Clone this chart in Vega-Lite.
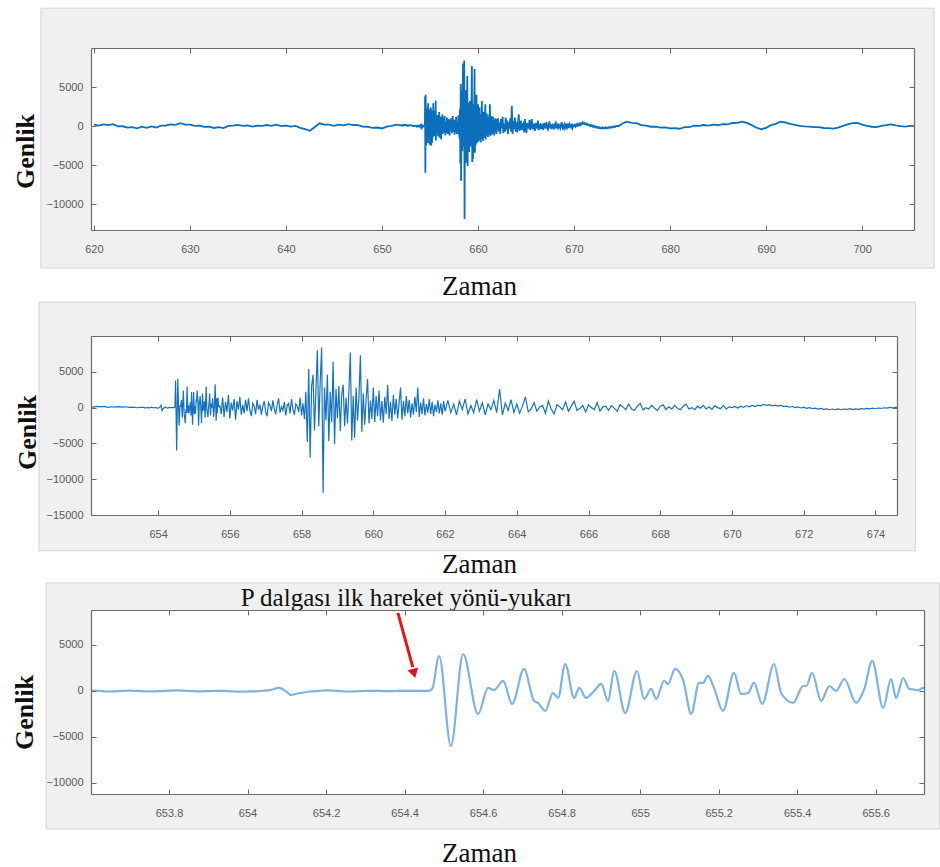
{
  "$schema": "https://vega.github.io/schema/vega-lite/v6.json",
  "background": "white",
  "padding": {"left": 11, "top": 7, "right": 0, "bottom": 0},
  "config": {
    "view": {"stroke": null},
    "axis": {
      "grid": false,
      "domainColor": "#6b6b6b", "domainWidth": 1.2,
      "tickColor": "#6b6b6b", "tickSize": -5, "tickWidth": 1,
      "labelFont": "Liberation Sans", "labelFontSize": 11, "labelColor": "#5a5a5a",
      "labelFlush": false, "labelOverlap": false,
      "titleFont": "Liberation Serif", "titleColor": "#111111", "titleFontWeight": "normal", "titleFontSize": 27
    }
  },
  "datasets": {
    "sig": [
      {"t":620,"v":180},{"t":620.5,"v":60},{"t":621,"v":220},{"t":621.5,"v":120},{"t":622,"v":260},{"t":622.5,"v":-40},{"t":623,"v":-20},{"t":623.5,"v":-200},{"t":624,"v":-120},{"t":624.5,"v":-280},{"t":625,"v":-80},{"t":625.5,"v":-220},{"t":626,"v":-40},{"t":626.5,"v":-180},{"t":627,"v":60},{"t":627.5,"v":80},{"t":628,"v":220},{"t":628.5,"v":160},{"t":629,"v":380},{"t":629.5,"v":200},{"t":630,"v":200},{"t":630.5,"v":20},{"t":631,"v":60},{"t":631.5,"v":-100},{"t":632,"v":-60},{"t":632.5,"v":-240},{"t":633,"v":-140},{"t":633.5,"v":-260},{"t":634,"v":20},{"t":634.5,"v":60},{"t":635,"v":160},{"t":635.5,"v":20},{"t":636,"v":80},{"t":636.5,"v":-60},{"t":637,"v":60},{"t":637.5,"v":20},{"t":638,"v":140},{"t":638.5,"v":40},{"t":639,"v":180},{"t":639.5,"v":0},{"t":640,"v":60},{"t":640.5,"v":-60},{"t":641,"v":20},{"t":641.5,"v":-220},{"t":642,"v":-380},{"t":642.5,"v":-600},{"t":643,"v":-120},{"t":643.5,"v":360},{"t":644,"v":200},{"t":644.5,"v":180},{"t":645,"v":40},{"t":645.5,"v":180},{"t":646,"v":100},{"t":646.5,"v":260},{"t":647,"v":140},{"t":647.5,"v":120},{"t":648,"v":-60},{"t":648.5,"v":-80},{"t":649,"v":-220},{"t":649.5,"v":-180},{"t":650,"v":-300},{"t":650.5,"v":-80},{"t":651,"v":40},{"t":651.5,"v":200},{"t":652,"v":80},
      {"t":652.1,"v":140},{"t":652.2,"v":60},{"t":652.3,"v":180},{"t":652.4,"v":100},{"t":652.5,"v":160},{"t":652.6,"v":40},{"t":652.7,"v":120},{"t":652.8,"v":60},{"t":652.9,"v":140},{"t":653,"v":80},{"t":653.1,"v":120},{"t":653.2,"v":20},{"t":653.3,"v":60},{"t":653.4,"v":-20},{"t":653.5,"v":40},
      {"t":653.6,"v":40},{"t":653.62,"v":20},{"t":653.64,"v":-60},{"t":653.66,"v":-40},{"t":653.68,"v":0},{"t":653.7,"v":30},{"t":653.72,"v":0},{"t":653.74,"v":-30},{"t":653.76,"v":-50},{"t":653.78,"v":-10},{"t":653.8,"v":40},{"t":653.82,"v":60},{"t":653.84,"v":20},{"t":653.86,"v":-20},{"t":653.88,"v":-40},{"t":653.9,"v":-20},{"t":653.92,"v":10},{"t":653.94,"v":0},{"t":653.96,"v":-40},{"t":653.98,"v":-80},{"t":654,"v":-60},{"t":654.02,"v":-40},{"t":654.04,"v":20},{"t":654.06,"v":120},{"t":654.08,"v":330},{"t":654.1,"v":-100},{"t":654.11,"v":-430},{"t":654.13,"v":-250},{"t":654.16,"v":-60},{"t":654.18,"v":0},{"t":654.2,"v":60},{"t":654.22,"v":30},{"t":654.24,"v":-30},{"t":654.26,"v":-60},{"t":654.28,"v":-30},{"t":654.3,"v":0},{"t":654.32,"v":20},{"t":654.34,"v":0},{"t":654.36,"v":-20},{"t":654.38,"v":0},{"t":654.4,"v":10},{"t":654.42,"v":0},{"t":654.44,"v":10},{"t":654.46,"v":20},
      {"t":654.47,"v":200},{"t":654.488,"v":3800},{"t":654.518,"v":-5980},{"t":654.549,"v":4020},{"t":654.587,"v":-2500},{"t":654.613,"v":330},{"t":654.628,"v":100},{"t":654.651,"v":1090},{"t":654.674,"v":-1410},{"t":654.704,"v":2390},{"t":654.73,"v":-1090},{"t":654.74,"v":-1300},{"t":654.758,"v":-2170},{"t":654.778,"v":-220},{"t":654.791,"v":-760},{"t":654.809,"v":2930},{"t":654.832,"v":-760},{"t":654.845,"v":330},{"t":654.862,"v":-760},{"t":654.883,"v":0},{"t":654.901,"v":760},{"t":654.918,"v":-1090},{"t":654.934,"v":2170},{"t":654.962,"v":-2390},{"t":654.992,"v":2170},{"t":655.01,"v":-870},{"t":655.028,"v":220},{"t":655.041,"v":-870},{"t":655.061,"v":1090},{"t":655.071,"v":760},{"t":655.089,"v":2390},{"t":655.11,"v":1090},{"t":655.13,"v":-2500},{"t":655.15,"v":870},{"t":655.16,"v":870},{"t":655.173,"v":1630},{"t":655.188,"v":330},{"t":655.211,"v":-2170},{"t":655.239,"v":1960},{"t":655.257,"v":-330},{"t":655.275,"v":-220},{"t":655.29,"v":870},{"t":655.311,"v":-1410},{"t":655.341,"v":2930},{"t":655.359,"v":-220},{"t":655.39,"v":-1300},{"t":655.415,"v":540},{"t":655.423,"v":540},{"t":655.438,"v":1960},{"t":655.461,"v":-1090},{"t":655.482,"v":540},{"t":655.499,"v":0},{"t":655.52,"v":1300},{"t":655.55,"v":-1300},{"t":655.571,"v":220},{"t":655.591,"v":3260},{"t":655.619,"v":-1850},{"t":655.639,"v":1300},{"t":655.652,"v":-760},{"t":655.67,"v":1410},{"t":655.685,"v":220},{"t":655.708,"v":100},{"t":655.721,"v":330},
      {"t":655.76,"v":-900},{"t":655.8,"v":1400},{"t":655.84,"v":-1300},{"t":655.88,"v":800},{"t":655.92,"v":-600},{"t":655.96,"v":1800},{"t":656,"v":-1500},{"t":656.04,"v":700},{"t":656.08,"v":-400},{"t":656.12,"v":1200},{"t":656.16,"v":-1700},{"t":656.2,"v":900},{"t":656.24,"v":-300},{"t":656.28,"v":1500},{"t":656.32,"v":-1000},{"t":656.36,"v":400},{"t":656.4,"v":-800},{"t":656.44,"v":1100},{"t":656.48,"v":-500},
      {"t":656.52,"v":1300},{"t":656.56,"v":-400},{"t":656.6,"v":-1200},{"t":656.64,"v":600},{"t":656.68,"v":200},{"t":656.72,"v":-900},{"t":656.76,"v":1100},{"t":656.8,"v":-300},{"t":656.84,"v":400},{"t":656.88,"v":-1000},{"t":656.92,"v":200},{"t":656.96,"v":900},{"t":657,"v":-600},{"t":657.04,"v":-1200},{"t":657.08,"v":700},{"t":657.12,"v":300},{"t":657.16,"v":-500},{"t":657.2,"v":1000},{"t":657.24,"v":-200},{"t":657.28,"v":-900},{"t":657.32,"v":400},{"t":657.36,"v":1300},{"t":657.4,"v":-700},{"t":657.44,"v":100},{"t":657.48,"v":-400},{"t":657.52,"v":800},{"t":657.56,"v":-1100},{"t":657.6,"v":300},{"t":657.64,"v":600},{"t":657.68,"v":-800},{"t":657.72,"v":1200},{"t":657.76,"v":-300},{"t":657.8,"v":-1000},{"t":657.84,"v":500},{"t":657.88,"v":200},{"t":657.92,"v":-600},{"t":657.96,"v":1400},{"t":658,"v":-1100},{"t":658.04,"v":600},{"t":658.08,"v":-1600},
      {"t":658.12,"v":2200},{"t":658.16,"v":-4800},{"t":658.2,"v":5400},{"t":658.24,"v":-7000},{"t":658.28,"v":3000},{"t":658.32,"v":4600},{"t":658.36,"v":-3200},{"t":658.4,"v":2400},{"t":658.44,"v":8000},{"t":658.48,"v":-2600},{"t":658.52,"v":3600},{"t":658.56,"v":8400},{"t":658.6,"v":-11900},{"t":658.64,"v":2800},{"t":658.68,"v":-1800},{"t":658.72,"v":4600},{"t":658.76,"v":-4700},{"t":658.8,"v":2200},{"t":658.84,"v":-2000},{"t":658.88,"v":6400},{"t":658.92,"v":-5100},{"t":658.96,"v":2600},{"t":659,"v":-1500},{"t":659.04,"v":3000},{"t":659.08,"v":-3300},{"t":659.12,"v":1800},{"t":659.16,"v":3200},{"t":659.2,"v":-2600},{"t":659.24,"v":1400},{"t":659.28,"v":-2200},{"t":659.32,"v":2400},{"t":659.36,"v":7700},{"t":659.4,"v":-4600},{"t":659.44,"v":1600},{"t":659.48,"v":-4200},{"t":659.52,"v":2800},{"t":659.56,"v":-1800},{"t":659.6,"v":1500},{"t":659.64,"v":7300},{"t":659.68,"v":-3400},{"t":659.72,"v":2000},{"t":659.76,"v":-2400},{"t":659.8,"v":1200},{"t":659.84,"v":4000},{"t":659.88,"v":-2200},{"t":659.92,"v":1000},{"t":659.96,"v":-1600},{"t":660,"v":2800},{"t":660.04,"v":-2000},{"t":660.08,"v":1600},{"t":660.12,"v":-1200},{"t":660.16,"v":2400},{"t":660.2,"v":-1800},{"t":660.24,"v":900},{"t":660.28,"v":-2100},{"t":660.32,"v":1500},{"t":660.36,"v":-900},{"t":660.4,"v":3200},{"t":660.44,"v":-1600},{"t":660.48,"v":800},{"t":660.52,"v":-1900},{"t":660.56,"v":1800},{"t":660.6,"v":-1000},{"t":660.64,"v":1200},{"t":660.68,"v":-1500},{"t":660.72,"v":700},{"t":660.76,"v":2800},{"t":660.8,"v":-1700},{"t":660.84,"v":900},{"t":660.88,"v":-1200},{"t":660.92,"v":1600},{"t":660.96,"v":-800},{"t":661,"v":1100},{"t":661.04,"v":-1400},{"t":661.08,"v":600},{"t":661.12,"v":-1000},{"t":661.16,"v":1500},{"t":661.2,"v":-600},{"t":661.24,"v":2800},{"t":661.28,"v":-1300},{"t":661.32,"v":700},{"t":661.36,"v":-900},{"t":661.4,"v":1300},{"t":661.44,"v":-1100},{"t":661.48,"v":500},{"t":661.52,"v":-700},{"t":661.56,"v":1200},{"t":661.6,"v":-900},{"t":661.64,"v":800},{"t":661.68,"v":-1200},{"t":661.72,"v":400},{"t":661.76,"v":-600},{"t":661.8,"v":1000},{"t":661.84,"v":-800},{"t":661.88,"v":600},{"t":661.92,"v":-1000},{"t":661.96,"v":900},{"t":662,"v":-500},
      {"t":662.08,"v":1000},{"t":662.16,"v":-700},{"t":662.24,"v":500},{"t":662.32,"v":-1000},{"t":662.4,"v":900},{"t":662.48,"v":-300},{"t":662.56,"v":1200},{"t":662.64,"v":-900},{"t":662.72,"v":300},{"t":662.8,"v":-700},{"t":662.88,"v":1100},{"t":662.96,"v":-500},{"t":663.04,"v":700},{"t":663.12,"v":-1000},{"t":663.2,"v":500},{"t":663.28,"v":-300},{"t":663.36,"v":1000},{"t":663.44,"v":-700},{"t":663.52,"v":2600},{"t":663.6,"v":-1000},{"t":663.68,"v":600},{"t":663.76,"v":-400},{"t":663.84,"v":1100},{"t":663.92,"v":-700},
      {"t":664,"v":500},{"t":664.08,"v":-800},{"t":664.16,"v":200},{"t":664.24,"v":1500},{"t":664.32,"v":-600},{"t":664.4,"v":-200},{"t":664.48,"v":700},{"t":664.56,"v":-500},{"t":664.64,"v":100},{"t":664.72,"v":300},{"t":664.8,"v":-800},{"t":664.88,"v":900},{"t":664.96,"v":-200},{"t":665.04,"v":-900},{"t":665.12,"v":400},{"t":665.2,"v":100},{"t":665.28,"v":-300},{"t":665.36,"v":800},{"t":665.44,"v":-500},{"t":665.52,"v":200},{"t":665.6,"v":900},{"t":665.68,"v":-400},{"t":665.76,"v":-100},{"t":665.84,"v":300},{"t":665.92,"v":-600},{"t":666,"v":400},{"t":666.08,"v":0},{"t":666.16,"v":-300},{"t":666.24,"v":700},{"t":666.32,"v":-500},{"t":666.4,"v":100},{"t":666.48,"v":200},{"t":666.56,"v":-400},{"t":666.64,"v":300},{"t":666.72,"v":-100},{"t":666.8,"v":-500},{"t":666.88,"v":400},{"t":666.96,"v":100},{"t":667.04,"v":-300},{"t":667.12,"v":500},{"t":667.2,"v":-200},{"t":667.28,"v":-400},{"t":667.36,"v":200},{"t":667.44,"v":600},{"t":667.52,"v":-300},{"t":667.6,"v":0},{"t":667.68,"v":-200},{"t":667.76,"v":300},{"t":667.84,"v":-100},{"t":667.92,"v":-400},{"t":668,"v":200},{"t":668.08,"v":400},{"t":668.16,"v":-300},{"t":668.24,"v":100},{"t":668.32,"v":-200},{"t":668.4,"v":300},{"t":668.48,"v":-100},{"t":668.56,"v":-300},{"t":668.64,"v":200},{"t":668.72,"v":500},{"t":668.8,"v":-200},{"t":668.88,"v":0},{"t":668.96,"v":-300},{"t":669.04,"v":200},{"t":669.12,"v":-100},{"t":669.2,"v":300},{"t":669.28,"v":-200},{"t":669.36,"v":100},{"t":669.44,"v":-250},{"t":669.52,"v":250},{"t":669.6,"v":0},{"t":669.68,"v":-150},{"t":669.76,"v":300},{"t":669.84,"v":-200},{"t":669.92,"v":100},
      {"t":670,"v":0},{"t":670.08,"v":150},{"t":670.16,"v":-50},{"t":670.24,"v":200},{"t":670.32,"v":50},{"t":670.4,"v":250},{"t":670.48,"v":100},{"t":670.56,"v":300},{"t":670.64,"v":150},{"t":670.72,"v":350},{"t":670.8,"v":250},{"t":670.88,"v":450},{"t":670.96,"v":300},{"t":671.04,"v":400},{"t":671.12,"v":250},{"t":671.2,"v":350},{"t":671.28,"v":200},{"t":671.36,"v":300},{"t":671.44,"v":150},{"t":671.52,"v":200},{"t":671.6,"v":50},{"t":671.68,"v":150},{"t":671.76,"v":0},{"t":671.84,"v":100},{"t":671.92,"v":-50},{"t":672,"v":50},{"t":672.08,"v":-100},{"t":672.16,"v":-20},{"t":672.24,"v":-150},{"t":672.32,"v":-80},{"t":672.4,"v":-200},{"t":672.48,"v":-120},{"t":672.56,"v":-250},{"t":672.64,"v":-180},{"t":672.72,"v":-300},{"t":672.8,"v":-200},{"t":672.88,"v":-280},{"t":672.96,"v":-180},{"t":673.04,"v":-300},{"t":673.12,"v":-200},{"t":673.2,"v":-260},{"t":673.28,"v":-160},{"t":673.36,"v":-280},{"t":673.44,"v":-180},{"t":673.52,"v":-240},{"t":673.6,"v":-140},{"t":673.68,"v":-220},{"t":673.76,"v":-120},{"t":673.84,"v":-180},{"t":673.92,"v":-80},{"t":674,"v":-160},{"t":674.08,"v":-60},{"t":674.16,"v":-120},{"t":674.24,"v":-20},{"t":674.32,"v":-80},{"t":674.4,"v":20},{"t":674.48,"v":-20},{"t":674.56,"v":40},{"t":674.64,"v":0},
      {"t":675,"v":300},{"t":675.5,"v":560},{"t":676,"v":420},{"t":676.5,"v":380},{"t":677,"v":140},{"t":677.5,"v":60},{"t":678,"v":-80},{"t":678.5,"v":-60},{"t":679,"v":-200},{"t":679.5,"v":-160},{"t":680,"v":-300},{"t":680.5,"v":-260},{"t":681,"v":-340},{"t":681.5,"v":-140},{"t":682,"v":-120},{"t":682.5,"v":60},{"t":683,"v":20},{"t":683.5,"v":140},{"t":684,"v":60},{"t":684.5,"v":180},{"t":685,"v":120},{"t":685.5,"v":260},{"t":686,"v":220},{"t":686.5,"v":400},{"t":687,"v":420},{"t":687.5,"v":580},{"t":688,"v":420},{"t":688.5,"v":120},{"t":689,"v":-200},{"t":689.5,"v":-400},{"t":690,"v":-220},{"t":690.5,"v":120},{"t":691,"v":280},{"t":691.5,"v":560},{"t":692,"v":480},{"t":692.5,"v":300},{"t":693,"v":160},{"t":693.5,"v":20},{"t":694,"v":-40},{"t":694.5,"v":-60},{"t":695,"v":-140},{"t":695.5,"v":-120},{"t":696,"v":-240},{"t":696.5,"v":-260},{"t":697,"v":-320},{"t":697.5,"v":-180},{"t":698,"v":40},{"t":698.5,"v":220},{"t":699,"v":380},{"t":699.5,"v":420},{"t":700,"v":200},{"t":700.5,"v":40},{"t":701,"v":-80},{"t":701.5,"v":-120},{"t":702,"v":40},{"t":702.5,"v":120},{"t":703,"v":220},{"t":703.5,"v":100},{"t":704,"v":0},{"t":704.5,"v":-60},{"t":705,"v":40},{"t":705.5,"v":0}
    ]
  },
  "spacing": 5,
  "bounds": "full",
  "vconcat": [
    {
      "spacing": 106,
      "bounds": "flush",
      "vconcat": [
        {
          "width": 823, "height": 182,
          "layer": [
            {
              "data": {"values": [{}]},
              "mark": {"type": "rect", "fill": "#f0f0f0", "stroke": "#d4d4d4", "strokeWidth": 1, "clip": false},
              "encoding": {
                "x": {"datum": 614.49, "type": "quantitative", "scale": {"domain": [619.7, 705.4], "nice": false, "zero": false}, "axis": null},
                "x2": {"datum": 707.49},
                "y": {"datum": 15100, "type": "quantitative", "scale": {"domain": [-13300, 10000], "nice": false, "zero": false}, "axis": null},
                "y2": {"datum": -18180}
              }
            },
            {
              "data": {"values": [{}]},
              "mark": {"type": "rect", "fill": "white", "clip": false},
              "encoding": {
                "x": {"datum": 619.7, "type": "quantitative", "scale": {"domain": [619.7, 705.4], "nice": false, "zero": false},
                      "axis": {"orient": "top", "zindex": 2, "values": [620, 630, 640, 650, 660, 670, 680, 690, 700], "labels": false, "title": null}},
                "x2": {"datum": 705.4},
                "y": {"datum": 10000, "type": "quantitative", "scale": {"domain": [-13300, 10000], "nice": false, "zero": false},
                      "axis": {"orient": "right", "zindex": 2, "values": [-10000, -5000, 0, 5000], "labels": false, "title": null}},
                "y2": {"datum": -13300}
              }
            },
            {
              "data": {"name": "sig"},
              "mark": {"type": "line", "clip": true, "color": "#0c6fbe", "strokeWidth": 1.8},
              "encoding": {
                "x": {"field": "t", "type": "quantitative", "scale": {"domain": [619.7, 705.4], "nice": false, "zero": false},
                      "axis": {"orient": "bottom", "zindex": 2, "values": [620, 630, 640, 650, 660, 670, 680, 690, 700], "format": "~f", "labelPadding": 18,
                               "title": "Zaman", "titleX": 388, "titleY": 56, "titleBaseline": "middle", "titleAlign": "center"}},
                "y": {"field": "v", "type": "quantitative", "scale": {"domain": [-13300, 10000], "nice": false, "zero": false},
                      "axis": {"orient": "left", "zindex": 2, "values": [-10000, -5000, 0, 5000], "format": "~f", "labelPadding": 13,
                               "title": "Genlik", "titleFontWeight": "bold", "titleFontSize": 26, "titleX": -66, "titleY": 103, "titleBaseline": "middle", "titleAlign": "center"}}
              }
            }
          ]
        },
        {
          "width": 806, "height": 179,
          "layer": [
            {
              "data": {"values": [{}]},
              "mark": {"type": "rect", "fill": "#f0f0f0", "stroke": "#d4d4d4", "strokeWidth": 1, "clip": false},
              "encoding": {
                "x": {"datum": 650.68, "type": "quantitative", "scale": {"domain": [652.13, 674.6], "nice": false, "zero": false}, "axis": null},
                "x2": {"datum": 675.11},
                "y": {"datum": 14730, "type": "quantitative", "scale": {"domain": [-15000, 10000], "nice": false, "zero": false}, "axis": null},
                "y2": {"datum": -20000}
              }
            },
            {
              "data": {"values": [{}]},
              "mark": {"type": "rect", "fill": "white", "clip": false},
              "encoding": {
                "x": {"datum": 652.13, "type": "quantitative", "scale": {"domain": [652.13, 674.6], "nice": false, "zero": false},
                      "axis": {"orient": "top", "zindex": 2, "values": [654, 656, 658, 660, 662, 664, 666, 668, 670, 672, 674], "labels": false, "title": null}},
                "x2": {"datum": 674.6},
                "y": {"datum": 10000, "type": "quantitative", "scale": {"domain": [-15000, 10000], "nice": false, "zero": false},
                      "axis": {"orient": "right", "zindex": 2, "values": [-15000, -10000, -5000, 0, 5000], "labels": false, "title": null}},
                "y2": {"datum": -15000}
              }
            },
            {
              "data": {"name": "sig"},
              "mark": {"type": "line", "clip": true, "color": "#1572c0", "strokeWidth": 1.2},
              "encoding": {
                "x": {"field": "t", "type": "quantitative", "scale": {"domain": [652.13, 674.6], "nice": false, "zero": false},
                      "axis": {"orient": "bottom", "zindex": 2, "values": [654, 656, 658, 660, 662, 664, 666, 668, 670, 672, 674], "format": "~f", "labelPadding": 18,
                               "title": "Zaman", "titleX": 388, "titleY": 49, "titleBaseline": "middle", "titleAlign": "center"}},
                "y": {"field": "v", "type": "quantitative", "scale": {"domain": [-15000, 10000], "nice": false, "zero": false},
                      "axis": {"orient": "left", "zindex": 2, "values": [-15000, -10000, -5000, 0, 5000], "format": "~f", "labelPadding": 13,
                               "title": "Genlik", "titleFontWeight": "bold", "titleFontSize": 26, "titleX": -64, "titleY": 96, "titleBaseline": "middle", "titleAlign": "center"}}
              }
            }
          ]
        }
      ]
    },
    {
      "width": 833, "height": 184,
      "layer": [
        {
          "data": {"values": [{}]},
          "mark": {"type": "rect", "fill": "#f0f0f0", "stroke": "#d4d4d4", "strokeWidth": 1, "clip": false},
          "encoding": {
            "x": {"datum": 653.487, "type": "quantitative", "scale": {"domain": [653.6013, 655.723], "nice": false, "zero": false}, "axis": null},
            "x2": {"datum": 655.762},
            "y": {"datum": 11740, "type": "quantitative", "scale": {"domain": [-11200, 8800], "nice": false, "zero": false}, "axis": null},
            "y2": {"datum": -15000}
          }
        },
        {
          "data": {"values": [{}]},
          "mark": {"type": "rect", "fill": "white", "clip": false},
          "encoding": {
            "x": {"datum": 653.6013, "type": "quantitative", "scale": {"domain": [653.6013, 655.723], "nice": false, "zero": false},
                  "axis": {"orient": "top", "zindex": 2, "values": [653.8, 654, 654.2, 654.4, 654.6, 654.8, 655, 655.2, 655.4, 655.6], "labels": false, "title": null}},
            "x2": {"datum": 655.723},
            "y": {"datum": 8800, "type": "quantitative", "scale": {"domain": [-11200, 8800], "nice": false, "zero": false},
                  "axis": {"orient": "right", "zindex": 2, "values": [-10000, -5000, 0, 5000], "labels": false, "title": null}},
            "y2": {"datum": -11200}
          }
        },
        {
          "data": {"name": "sig"},
          "mark": {"type": "line", "clip": true, "color": "#7fb3de", "strokeWidth": 2.2, "interpolate": "monotone"},
          "encoding": {
            "x": {"field": "t", "type": "quantitative", "scale": {"domain": [653.6013, 655.723], "nice": false, "zero": false},
                  "axis": {"orient": "bottom", "zindex": 2, "values": [653.8, 654, 654.2, 654.4, 654.6, 654.8, 655, 655.2, 655.4, 655.6], "format": "~f", "labelPadding": 18,
                           "title": "Zaman", "titleX": 388, "titleY": 59, "titleBaseline": "middle", "titleAlign": "center"}},
            "y": {"field": "v", "type": "quantitative", "scale": {"domain": [-11200, 8800], "nice": false, "zero": false},
                  "axis": {"orient": "left", "zindex": 2, "values": [-10000, -5000, 0, 5000], "format": "~f", "labelPadding": 13,
                           "title": "Genlik", "titleFontWeight": "bold", "titleFontSize": 26, "titleX": -67, "titleY": 102, "titleBaseline": "middle", "titleAlign": "center"}}
          }
        },
        {
          "data": {"values": [{}]},
          "mark": {"type": "text", "text": "P dalgası ilk hareket yönü-yukarı", "align": "left", "baseline": "alphabetic",
                   "font": "Liberation Serif", "fontSize": 25, "color": "#111111", "clip": false},
          "encoding": {
            "x": {"datum": 653.983, "type": "quantitative", "scale": {"domain": [653.6013, 655.723], "nice": false, "zero": false}, "axis": null},
            "y": {"datum": 9240, "type": "quantitative", "scale": {"domain": [-11200, 8800], "nice": false, "zero": false}, "axis": null}
          }
        },
        {
          "data": {"values": [{}]},
          "mark": {"type": "rule", "color": "#e3131b", "strokeWidth": 3, "clip": false},
          "encoding": {
            "x": {"datum": 654.383, "type": "quantitative", "scale": {"domain": [653.6013, 655.723], "nice": false, "zero": false}, "axis": null},
            "y": {"datum": 8480, "type": "quantitative", "scale": {"domain": [-11200, 8800], "nice": false, "zero": false}, "axis": null},
            "x2": {"datum": 654.421},
            "y2": {"datum": 2600}
          }
        },
        {
          "data": {"values": [{}]},
          "mark": {"type": "point", "shape": "triangle-down", "filled": true, "color": "#e3131b", "opacity": 1, "size": 120, "angle": -15, "clip": false},
          "encoding": {
            "x": {"datum": 654.424, "type": "quantitative", "scale": {"domain": [653.6013, 655.723], "nice": false, "zero": false}, "axis": null},
            "y": {"datum": 1900, "type": "quantitative", "scale": {"domain": [-11200, 8800], "nice": false, "zero": false}, "axis": null}
          }
        }
      ]
    }
  ]
}
